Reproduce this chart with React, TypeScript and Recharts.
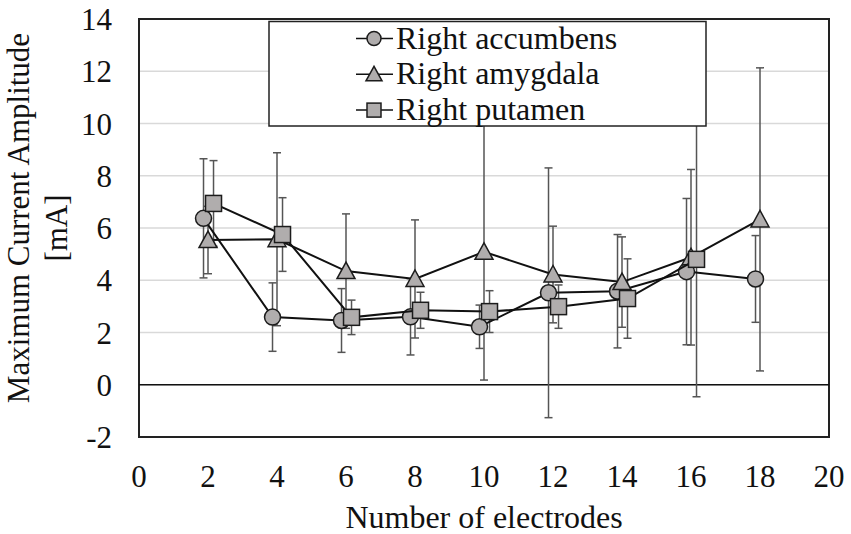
import React from 'react';
import {
  ScatterChart,
  Scatter,
  XAxis,
  YAxis,
  CartesianGrid,
  ErrorBar,
  ReferenceLine,
  ReferenceArea,
  Legend,
  Label,
} from 'recharts';

const electrodes = [2, 4, 6, 8, 10, 12, 14, 16, 18];

const accumbensMean = [6.37, 2.59, 2.46, 2.6, 2.22, 3.52, 3.58, 4.33, 4.05];
const accumbensSd = [2.28, 1.31, 1.22, 1.46, 0.83, 4.78, 2.17, 2.8, 1.66];

const amygdalaMean = [5.54, 5.57, 4.35, 4.05, 5.09, 4.22, 3.93, 4.88, 6.33];
const amygdalaSd = [1.29, 3.31, 2.19, 2.26, 4.91, 1.85, 1.73, 3.36, 5.8];

// no putamen value at 18 electrodes
const putamenMean = [6.94, 5.75, 2.58, 2.85, 2.8, 2.99, 3.3, 4.8];
const putamenSd = [1.64, 1.41, 0.66, 0.69, 0.8, 0.83, 1.52, 5.26];

const xTicks = [0, 2, 4, 6, 8, 10, 12, 14, 16, 18, 20];
const yTicks = [-2, 0, 2, 4, 6, 8, 10, 12, 14];

// the series are nudged sideways a little so the error bars don't overlap
const shiftAccumbens = -0.13;
const shiftPutamen = 0.16;

const FONT = 'Liberation Serif, Times New Roman, Tinos, DejaVu Serif, serif';
const FILL = '#b0adad';
const EDGE = '#1c1c1c';

function toPoints(means: number[], sds: number[], shift: number) {
  return means.map((m, i) => ({ x: electrodes[i] + shift, y: m, sd: sds[i] }));
}

const accumbens = toPoints(accumbensMean, accumbensSd, shiftAccumbens);
const amygdala = toPoints(amygdalaMean, amygdalaSd, 0);
const putamen = toPoints(putamenMean, putamenSd, shiftPutamen);

function Marker({ kind, cx, cy, size = 8 }: { kind: string; cx: number; cy: number; size?: number }) {
  if (cx == null || cy == null) return null;
  if (kind === 'circle') {
    return <circle cx={cx} cy={cy} r={size} fill={FILL} stroke={EDGE} strokeWidth={1.5} />;
  }
  if (kind === 'triangle') {
    const h = size + 1;
    return (
      <polygon
        points={`${cx},${cy - h} ${cx - h},${cy + size - 0.5} ${cx + h},${cy + size - 0.5}`}
        fill={FILL}
        stroke={EDGE}
        strokeWidth={1.5}
      />
    );
  }
  return (
    <rect x={cx - size} y={cy - size} width={size * 2} height={size * 2} fill={FILL} stroke={EDGE} strokeWidth={1.5} />
  );
}

const legendRows = [
  { name: 'Right accumbens', kind: 'circle' },
  { name: 'Right amygdala', kind: 'triangle' },
  { name: 'Right putamen', kind: 'square' },
];

function LegendBox() {
  return (
    <svg width={440} height={108} style={{ display: 'block' }}>
      <rect x={1} y={1.5} width={437} height={104.5} fill="#fff" stroke="#222" strokeWidth={1.5} />
      {legendRows.map((row, i) => {
        const y = 18.5 + i * 35.8;
        return (
          <g key={row.name}>
            <line x1={88} x2={125} y1={y} y2={y} stroke="#111" strokeWidth={1.5} />
            <Marker kind={row.kind} cx={106} cy={y} size={7} />
            <text x={128} y={y + 10} style={{ fontFamily: FONT, fontSize: 32 }} fill="#111">
              {row.name}
            </text>
          </g>
        );
      })}
    </svg>
  );
}

function YTitle(props: any) {
  const vb = props.viewBox || { y: 19, height: 418 };
  const mid = vb.y + vb.height / 2;
  return (
    <g style={{ fontFamily: FONT, fontSize: 31 }} fill="#111">
      <text transform={`translate(29,${mid - 10}) rotate(-90)`} textAnchor="middle">
        Maximum Current Amplitude
      </text>
      <text transform={`translate(67,${mid}) rotate(-90)`} textAnchor="middle">
        [mA]
      </text>
    </g>
  );
}

export default function App() {
  return (
    <div style={{ position: 'absolute', left: 0, top: 0, background: '#fff', fontFamily: FONT }}>
      <ScatterChart width={851} height={534} margin={{ top: 19, right: 22, bottom: 0, left: 0 }} style={{ fontFamily: FONT }}>
        <CartesianGrid vertical={false} stroke="#d9d9d9" strokeWidth={1.5} />
        <XAxis
          type="number"
          dataKey="x"
          domain={[0, 20]}
          ticks={xTicks}
          allowDataOverflow
          axisLine={false}
          tickLine={false}
          tickSize={0}
          tickMargin={28}
          height={97}
          tick={{ fontSize: 31, fill: '#111', style: { fontFamily: FONT } }}
        >
          <Label value="Number of electrodes" position="insideBottom" offset={6} style={{ fontSize: 32, fill: '#111', fontFamily: FONT }} />
        </XAxis>
        <YAxis
          type="number"
          dataKey="y"
          domain={[-2, 14]}
          ticks={yTicks}
          allowDataOverflow
          axisLine={false}
          tickLine={false}
          tickSize={0}
          tickMargin={27}
          width={139}
          tick={{ fontSize: 31, fill: '#111', style: { fontFamily: FONT } }}
        >
          <Label content={YTitle} />
        </YAxis>
        <ReferenceLine y={0} stroke="#111" strokeWidth={1.5} />
        <ReferenceArea x1={0} x2={20} y1={-2} y2={14} fill="none" stroke="#222" strokeWidth={2} />
        <Legend
          layout="vertical"
          align="center"
          verticalAlign="middle"
          wrapperStyle={{ left: 268, top: 20, width: 440, height: 108 }}
          content={() => <LegendBox />}
        />
        <Scatter
          name="Right accumbens"
          data={accumbens}
          line={{ stroke: '#111', strokeWidth: 2 }}
          lineType="joint"
          shape={(p: any) => <Marker kind="circle" cx={p.cx} cy={p.cy} />}
          isAnimationActive={false}
        >
          <ErrorBar dataKey="sd" direction="y" width={4} stroke="#555" strokeWidth={1.5} />
        </Scatter>
        <Scatter
          name="Right amygdala"
          data={amygdala}
          line={{ stroke: '#111', strokeWidth: 2 }}
          lineType="joint"
          shape={(p: any) => <Marker kind="triangle" cx={p.cx} cy={p.cy} />}
          isAnimationActive={false}
        >
          <ErrorBar dataKey="sd" direction="y" width={4} stroke="#555" strokeWidth={1.5} />
        </Scatter>
        <Scatter
          name="Right putamen"
          data={putamen}
          line={{ stroke: '#111', strokeWidth: 2 }}
          lineType="joint"
          shape={(p: any) => <Marker kind="square" cx={p.cx} cy={p.cy} />}
          isAnimationActive={false}
        >
          <ErrorBar dataKey="sd" direction="y" width={4} stroke="#555" strokeWidth={1.5} />
        </Scatter>
      </ScatterChart>
    </div>
  );
}
